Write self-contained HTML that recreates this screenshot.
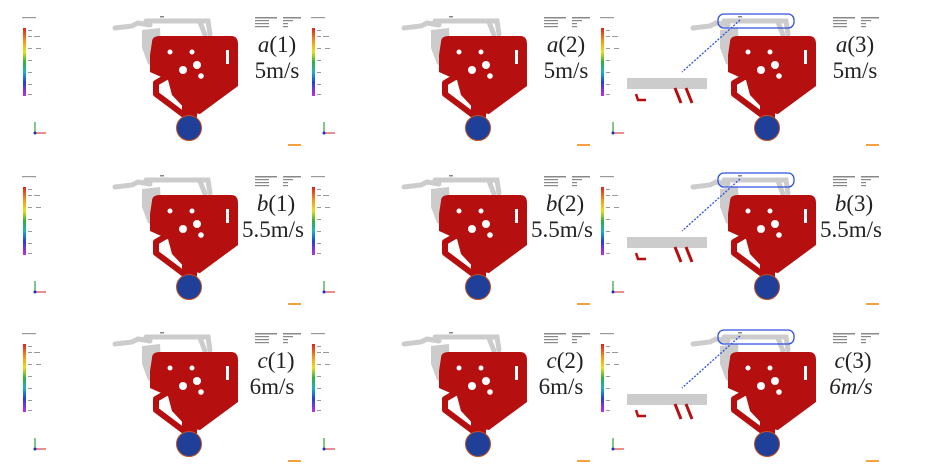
<!DOCTYPE html>
<html><head><meta charset="utf-8"><style>
html,body{margin:0;padding:0;background:#fff;width:929px;height:476px;overflow:hidden}
svg{display:block}
.lab{font-family:"Liberation Serif",serif;font-size:23px;fill:#222}
.it{font-style:italic}
</style></head><body>
<svg width="929" height="476" viewBox="0 0 929 476" xmlns="http://www.w3.org/2000/svg">
<defs>
<linearGradient id="cb" x1="0" y1="0" x2="0" y2="1">
<stop offset="0" stop-color="#e02020"/><stop offset="0.2" stop-color="#f39a1a"/>
<stop offset="0.35" stop-color="#e8e020"/><stop offset="0.5" stop-color="#30b040"/>
<stop offset="0.65" stop-color="#20b0c0"/><stop offset="0.8" stop-color="#2040e0"/>
<stop offset="1" stop-color="#c030e0"/></linearGradient>
<g id="base">
<rect x="23" y="28" width="3" height="68" fill="url(#cb)"/>
<g fill="#999"><rect x="22" y="17" width="14" height="1.2"/>
<rect x="28" y="30" width="4" height="1"/><rect x="28" y="36" width="4" height="1"/><rect x="34" y="36" width="6" height="1"/>
<rect x="28" y="48" width="4" height="1"/><rect x="36" y="48" width="5" height="1"/><rect x="28" y="60" width="4" height="1"/>
<rect x="28" y="72" width="4" height="1"/><rect x="28" y="84" width="4" height="1"/><rect x="28" y="94" width="4" height="1"/></g>
<g fill="#888"><rect x="255" y="17" width="22" height="1.5"/><rect x="283" y="17" width="18" height="1.5"/>
<rect x="255" y="20" width="14" height="1.2"/><rect x="283" y="20" width="10" height="1.2"/>
<rect x="255" y="23" width="14" height="1.2"/><rect x="283" y="23" width="5" height="1.2"/>
<rect x="255" y="26" width="14" height="1.2"/><rect x="283" y="26" width="5" height="1.2"/>
<rect x="160" y="16" width="4" height="1.5"/></g>
<rect x="288" y="144" width="13" height="2" fill="#f6a040"/>
<line x1="35" y1="133" x2="35" y2="122" stroke="#30a040" stroke-width="1.2"/>
<line x1="35" y1="133" x2="46" y2="133" stroke="#e04040" stroke-width="1.2"/>
<circle cx="35" cy="133" r="1.5" fill="#2030c0"/>
</g>
<g id="cast">
<g stroke="#cccccc" fill="none" stroke-width="5" stroke-linecap="round">
<path d="M115,28 L132,26 L138,23 L150,25"/>
<path d="M146,21 L208,21 L210,34"/>
<path d="M200,22 L205,35"/>
</g>
<path d="M142,30 L160,28 L162,70 L148,64 L142,48Z" fill="#cccccc"/>
<path d="M152,42 Q152,36 160,36 L231,36 Q238,36 238,44 L238,86 L200,114 L188,112 L172,95 L168,80 L150,72 L150,55Z" fill="#b50f0f"/>
<path d="M168,76 L156,83 L156,94 L184,115" stroke="#b50f0f" stroke-width="6" fill="none" stroke-linejoin="round"/>
<rect x="182" y="102" width="15" height="16" fill="#b50f0f"/>
<g fill="#fff"><circle cx="183" cy="70" r="4"/><circle cx="197" cy="65" r="4"/><circle cx="201" cy="76" r="2.8"/>
<circle cx="170" cy="52" r="2.5"/><circle cx="192" cy="52" r="2.5"/><rect x="226" y="50" width="3" height="14"/></g>
<circle cx="189" cy="128" r="12.5" fill="#1f3f99" stroke="#c05020" stroke-width="1"/>
</g>
<g id="extra">
<rect x="49" y="78" width="80" height="11" fill="#cccccc"/>
<path d="M97,88 L103,103 M108,88 L114,103" stroke="#b50f0f" stroke-width="3"/>
<path d="M58,94 L60,100 L68,100" stroke="#b50f0f" stroke-width="2.5" fill="none"/>
<line x1="162" y1="20" x2="104" y2="72" stroke="#3050e0" stroke-width="1.3" stroke-dasharray="2,1.5"/>
<rect x="140" y="14" width="76" height="14" rx="6" fill="none" stroke="#3050e0" stroke-width="1.3"/>
</g>
</defs>

<g transform="translate(0,0)"><use href="#base"/><use href="#cast"/></g>
<g transform="translate(289,0)"><use href="#base"/><use href="#cast"/></g>
<g transform="translate(578,0)"><use href="#base"/><use href="#cast"/><use href="#extra"/></g>
<g transform="translate(0,159)"><use href="#base"/><use href="#cast"/></g>
<g transform="translate(289,159)"><use href="#base"/><use href="#cast"/></g>
<g transform="translate(578,159)"><use href="#base"/><use href="#cast"/><use href="#extra"/></g>
<g transform="translate(0,316)"><use href="#base"/><use href="#cast"/></g>
<g transform="translate(289,316)"><use href="#base"/><use href="#cast"/></g>
<g transform="translate(578,316)"><use href="#base"/><use href="#cast"/><use href="#extra"/></g>

<g class="lab" text-anchor="middle">
<text x="277" y="52"><tspan class="it">a</tspan>(1)</text><text x="277" y="78">5m/s</text>
<text x="566" y="52"><tspan class="it">a</tspan>(2)</text><text x="566" y="78">5m/s</text>
<text x="855" y="52"><tspan class="it">a</tspan>(3)</text><text x="855" y="78">5m/s</text>
<text x="276" y="211"><tspan class="it">b</tspan>(1)</text><text x="273" y="237">5.5m/s</text>
<text x="565" y="211"><tspan class="it">b</tspan>(2)</text><text x="562" y="237">5.5m/s</text>
<text x="854" y="211"><tspan class="it">b</tspan>(3)</text><text x="851" y="237">5.5m/s</text>
<text x="276" y="368"><tspan class="it">c</tspan>(1)</text><text x="272" y="394">6m/s</text>
<text x="565" y="368"><tspan class="it">c</tspan>(2)</text><text x="561" y="394">6m/s</text>
<text x="853" y="368"><tspan class="it">c</tspan>(3)</text><text x="851" y="394" class="it">6m/s</text>
</g>
</svg>
</body></html>
